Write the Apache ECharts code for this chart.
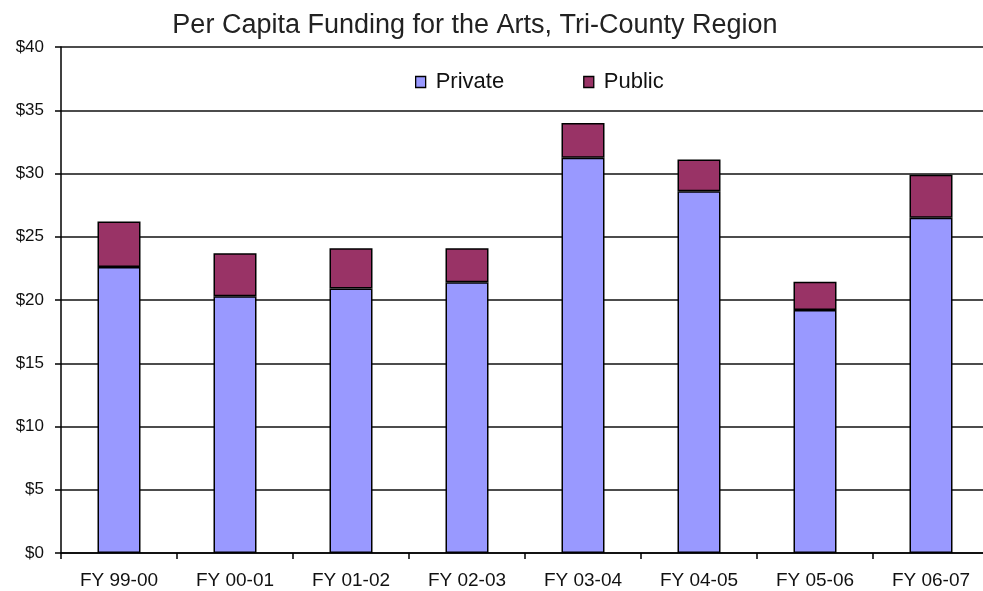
<!DOCTYPE html>
<html>
<head>
<meta charset="utf-8">
<script src="https://cdn.jsdelivr.net/npm/echarts@6/dist/echarts.min.js"></script>
<style>
html,body{margin:0;padding:0;background:#fff;overflow:hidden;}
#main{width:983px;height:591px;}
</style>
</head>
<body>
<div id="main"></div>
<script>
const categories = ['FY 99-00','FY 00-01','FY 01-02','FY 02-03','FY 03-04','FY 04-05','FY 05-06','FY 06-07'];
const privateValues = [22.6, 20.3, 20.9, 21.4, 31.25, 28.6, 19.2, 26.5];
const publicValues = [3.6, 3.4, 3.2, 2.7, 2.75, 2.5, 2.25, 3.4];
const yTicks = [0, 5, 10, 15, 20, 25, 30, 35, 40];

const chart = echarts.init(document.getElementById('main'), null, {renderer: 'canvas'});
const font = 'Arial, "Liberation Sans", sans-serif';
chart.setOption({
  animation: false,
  backgroundColor: '#fff',
  title: {
    text: 'Per Capita Funding for the Arts, Tri-County Region',
    left: 470, top: 7, textAlign: 'center',
    textStyle: {fontFamily: font, fontSize: 27, fontWeight: 'normal', color: '#222'}
  },
  legend: {
    data: ['Private', 'Public'],
    left: 415, top: 71, padding: 0,
    itemWidth: 10, itemHeight: 11, itemGap: 79,
    icon: 'rect',
    itemStyle: {borderColor: '#000', borderWidth: 1.3},
    textStyle: {fontFamily: font, fontSize: 22, color: '#111', padding: [0,0,0,5]}
  },
  grid: {left: 61, width: 928, top: 47, bottom: 38, containLabel: false, outerBoundsMode: 'none'},
  xAxis: {
    type: 'category', data: categories,
    axisLine: {show: true, lineStyle: {color: '#000', width: 1.5}},
    axisTick: {show: true, length: 6, lineStyle: {color: '#000', width: 1.5}},
    axisLabel: {fontFamily: font, fontSize: 19, color: '#111', margin: 18}
  },
  yAxis: {
    type: 'value', min: 0, max: 40, interval: 5,
    axisLine: {show: true, lineStyle: {color: '#000', width: 1.5}},
    axisTick: {show: true, length: 6, lineStyle: {color: '#000', width: 1.5}},
    splitLine: {show: true, lineStyle: {color: '#111', width: 1.5}},
    axisLabel: {
      fontFamily: font, fontSize: 17, color: '#111', margin: 17,
      formatter: v => yTicks.includes(v) ? '$' + v : ''
    }
  },
  series: [
    {
      name: 'Private', type: 'bar', stack: 'total', data: privateValues,
      barWidth: 43,
      itemStyle: {color: '#9999FF', borderColor: '#000', borderWidth: 1.5}
    },
    {
      name: 'Public', type: 'bar', stack: 'total', data: publicValues,
      barWidth: 43,
      itemStyle: {color: '#993366', borderColor: '#000', borderWidth: 1.5}
    }
  ]
});
</script>
</body>
</html>
